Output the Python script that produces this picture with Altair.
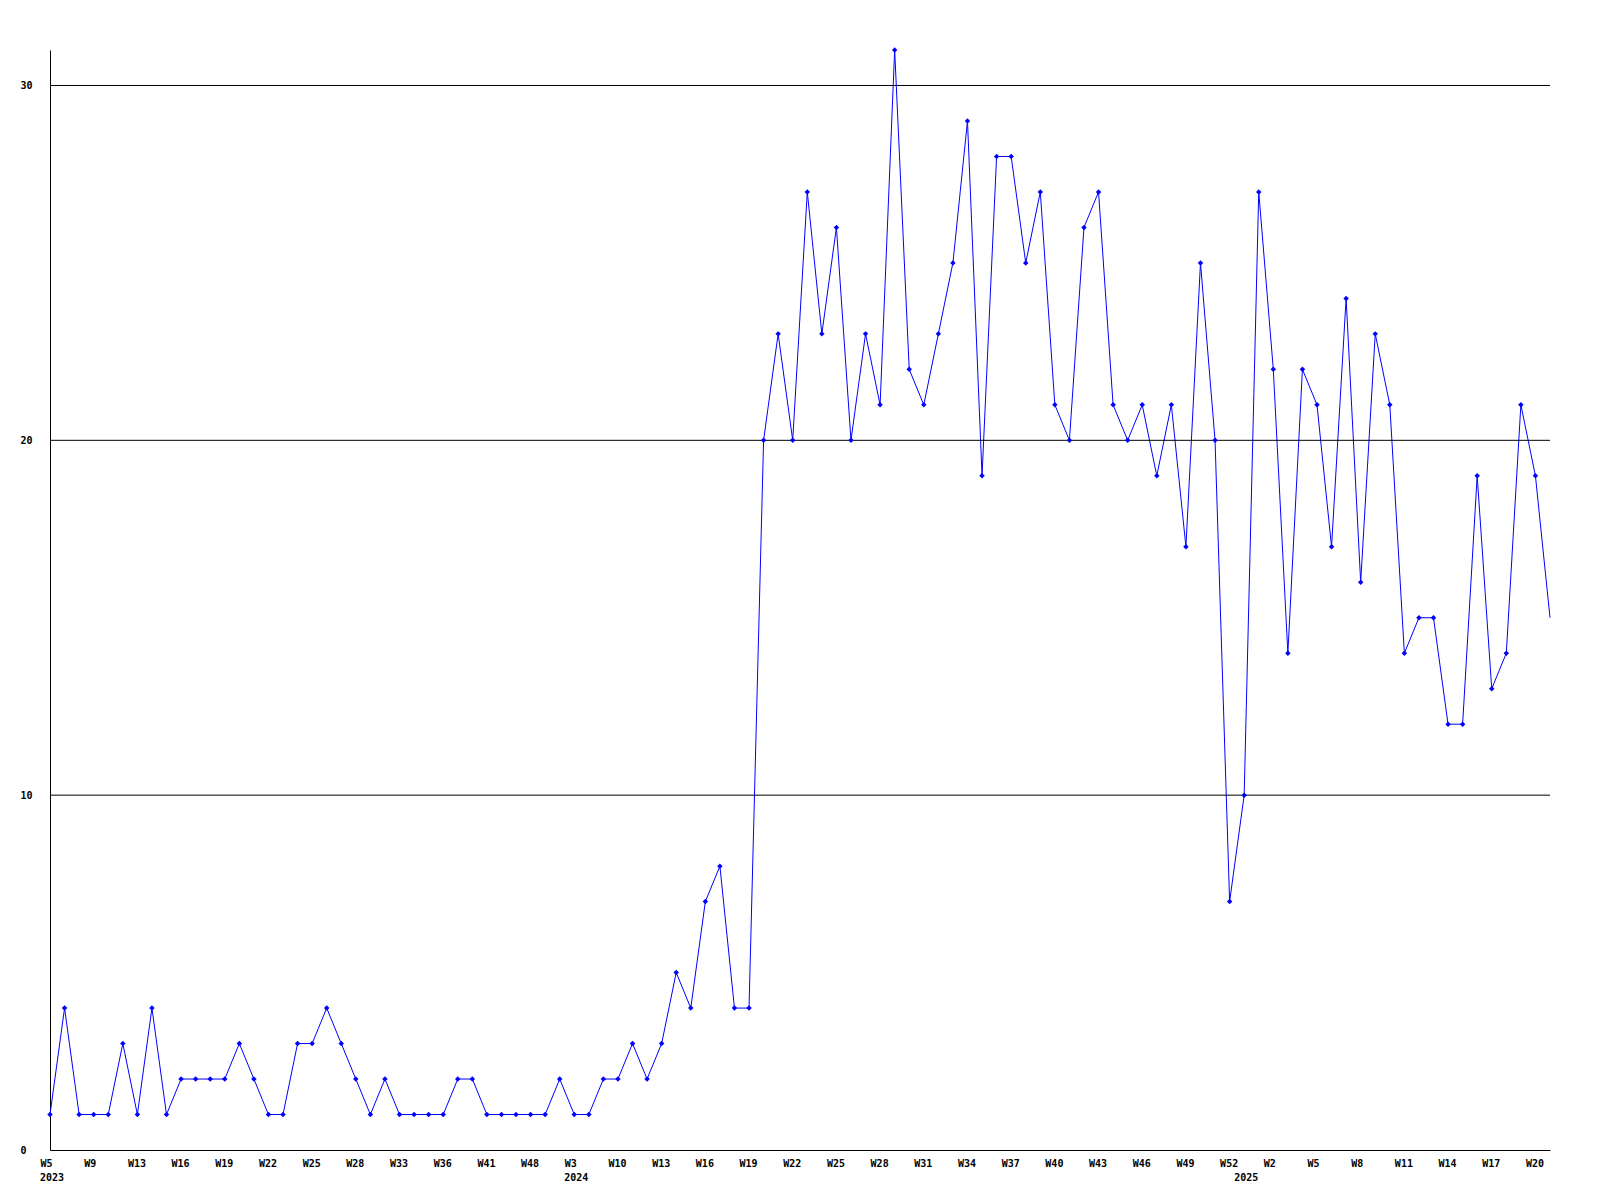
import json
import altair as alt
import pandas as pd

# ---- data ----
weeks_2023 = ["W5", "W7", "W8", "W9", "W10", "W12", "W13", "W14", "W15", "W16", "W17", "W18",
              "W19", "W20", "W21", "W22", "W23", "W24", "W25", "W26", "W27", "W28", "W30", "W31",
              "W33", "W34", "W35", "W36", "W38", "W39", "W41", "W43", "W45", "W48", "W50", "W52"]
counts_2023 = [1, 4, 1, 1, 1, 3, 1, 4, 1, 2, 2, 2,
               2, 3, 2, 1, 1, 3, 3, 4, 3, 2, 1, 2,
               1, 1, 1, 1, 2, 2, 1, 1, 1, 1, 1, 2]

weeks_2024 = ["W3", "W5", "W8"] + [f"W{w}" for w in range(10, 53)]
counts_2024 = [1, 1, 2, 2, 3, 2, 3, 5, 4, 7, 8, 4, 4, 20, 23, 20, 27, 23, 26, 20, 23, 21, 31,
               22, 21, 23, 25, 29, 19, 28, 28, 25, 27, 21, 20, 26, 27, 21, 20, 21, 19, 21, 17,
               25, 20, 7]

weeks_2025 = [f"W{w}" for w in range(0, 22)]
counts_2025 = [10, 27, 22, 14, 22, 21, 17, 24, 16, 23, 21, 14, 15, 15, 12, 12, 19, 13, 14, 21,
               19, 15]

y_ticks = [0, 10, 20, 30]
grid_values = [10, 20, 30]

# ---- table ----
rows = []
for year, weeks, counts in (("2023", weeks_2023, counts_2023),
                            ("2024", weeks_2024, counts_2024),
                            ("2025", weeks_2025, counts_2025)):
    for w, c in zip(weeks, counts):
        rows.append({"year": year, "week": w, "count": c})
df = pd.DataFrame(rows)
df["idx"] = range(len(df))
n = len(df)
week_labels = df["week"].tolist()
tick_idx = list(range(0, n - 1, 3))

years_df = df.groupby("year", as_index=False).first()

W, H = 1500, 1100
FONT = "DejaVu Sans Mono"
BLUE = "#0000ff"

x_scale = alt.Scale(domain=[0, n - 1], nice=False, zero=False)
y_scale = alt.Scale(domain=[0, 31], nice=False, zero=True)

label_expr = json.dumps(week_labels) + "[round(datum.value)]"

x_axis = alt.Axis(values=tick_idx, labelExpr=label_expr, title=None, ticks=False,
                  grid=False, domainColor="black", domainWidth=1,
                  labelFont=FONT, labelFontWeight="bold", labelFontSize=10,
                  labelColor="black", labelAlign="left", labelOffset=-10,
                  labelBaseline="top", labelPadding=8, labelOverlap=False,
                  labelFlush=False, labelBound=False)
y_axis = alt.Axis(values=y_ticks, title=None, ticks=False, grid=False,
                  domainColor="black", domainWidth=1,
                  labelFont=FONT, labelFontWeight="bold", labelFontSize=10,
                  labelColor="black", labelAlign="left", labelBaseline="middle",
                  labelPadding=30, labelOverlap=False, labelFlush=False)

base = alt.Chart(df)

line = base.mark_line(color=BLUE, strokeWidth=1).encode(
    x=alt.X("idx:Q", scale=x_scale, axis=x_axis),
    y=alt.Y("count:Q", scale=y_scale, axis=y_axis),
)

grid = alt.Chart(pd.DataFrame({"g": grid_values})).mark_rule(
    color="black", strokeWidth=1
).encode(y=alt.Y("g:Q", scale=y_scale, axis=y_axis))

pts = base.transform_filter(f"datum.idx < {n - 1}").mark_point(
    shape="diamond", filled=True, size=30, color=BLUE, opacity=1
).encode(
    x=alt.X("idx:Q", scale=x_scale, axis=x_axis),
    y=alt.Y("count:Q", scale=y_scale, axis=y_axis),
)

years = alt.Chart(years_df).mark_text(
    font=FONT, fontWeight="bold", fontSize=10, color="black",
    align="left", baseline="top", dx=-10
).encode(
    x=alt.X("idx:Q", scale=x_scale, axis=x_axis),
    y=alt.value(H + 23),
    text="year:N",
)

chart = alt.layer(line, grid, pts, years).properties(
    width=W, height=H,
    autosize=alt.AutoSizeParams(type="none"),
    padding={"left": 42, "top": 42, "right": 42, "bottom": 42},
    background="white",
).configure_view(stroke=None)

chart.save("out.html", embed_options={"renderer": "svg", "actions": False})
